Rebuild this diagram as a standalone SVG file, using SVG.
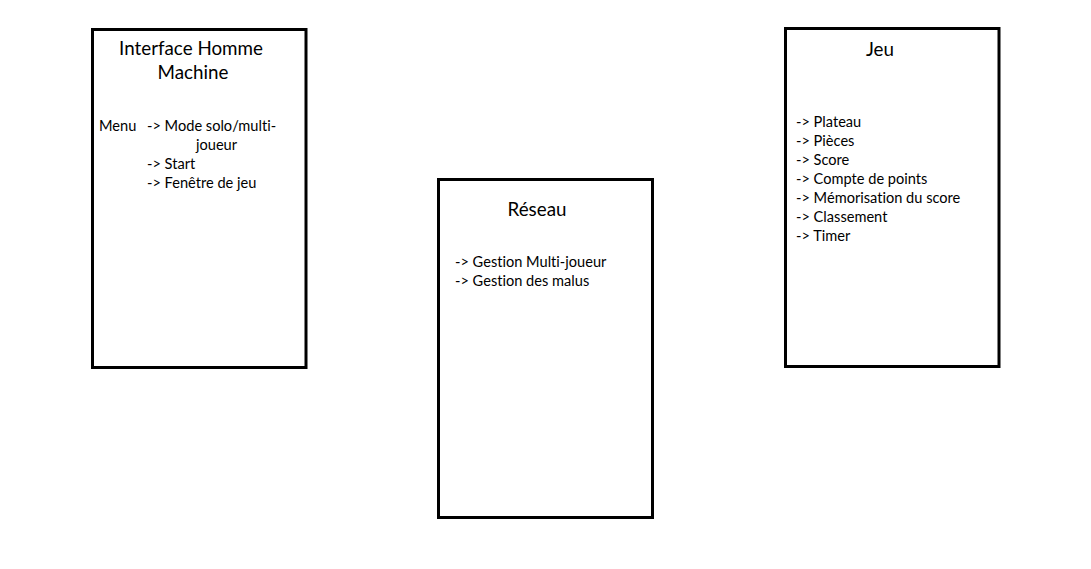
<svg xmlns="http://www.w3.org/2000/svg" width="1091" height="569" viewBox="0 0 1091 569">
<style>
.box{fill:#fff;stroke:#000;stroke-width:3}
.t{font-family:Lato,"Open Sans","Liberation Sans",sans-serif;fill:#000;font-variant-ligatures:none}
.h{font-size:18.8px;text-anchor:middle}
.b{font-size:14.6px}
</style>
<rect width="1091" height="569" fill="#fff"/>
<g id="ihm">
<rect class="box" x="92.5" y="29.5" width="213.5" height="338"/>
<text class="t h" x="191" y="55">Interface Homme</text>
<text class="t h" x="193" y="79">Machine</text>
<text class="t b" x="99" y="131">Menu</text>
<text class="t b" x="147" y="131">-&gt; Mode solo/multi-</text>
<text class="t b" x="196" y="150">joueur</text>
<text class="t b" x="147" y="169">-&gt; Start</text>
<text class="t b" x="147" y="188">-&gt; Fenêtre de jeu</text>
</g>
<g id="reseau">
<rect class="box" x="438.5" y="179.5" width="214" height="338"/>
<text class="t h" x="537" y="216">Réseau</text>
<text class="t b" x="455" y="267">-&gt; Gestion Multi-joueur</text>
<text class="t b" x="455" y="286">-&gt; Gestion des malus</text>
</g>
<g id="jeu">
<rect class="box" x="785.5" y="28.5" width="213.5" height="338"/>
<text class="t h" x="880" y="56">Jeu</text>
<text class="t b" x="796" y="127">-&gt; Plateau</text>
<text class="t b" x="796" y="146">-&gt; Pièces</text>
<text class="t b" x="796" y="165">-&gt; Score</text>
<text class="t b" x="796" y="184">-&gt; Compte de points</text>
<text class="t b" x="796" y="203">-&gt; Mémorisation du score</text>
<text class="t b" x="796" y="222">-&gt; Classement</text>
<text class="t b" x="796" y="241">-&gt; Timer</text>
</g>
<g id="connectors"/>
</svg>
